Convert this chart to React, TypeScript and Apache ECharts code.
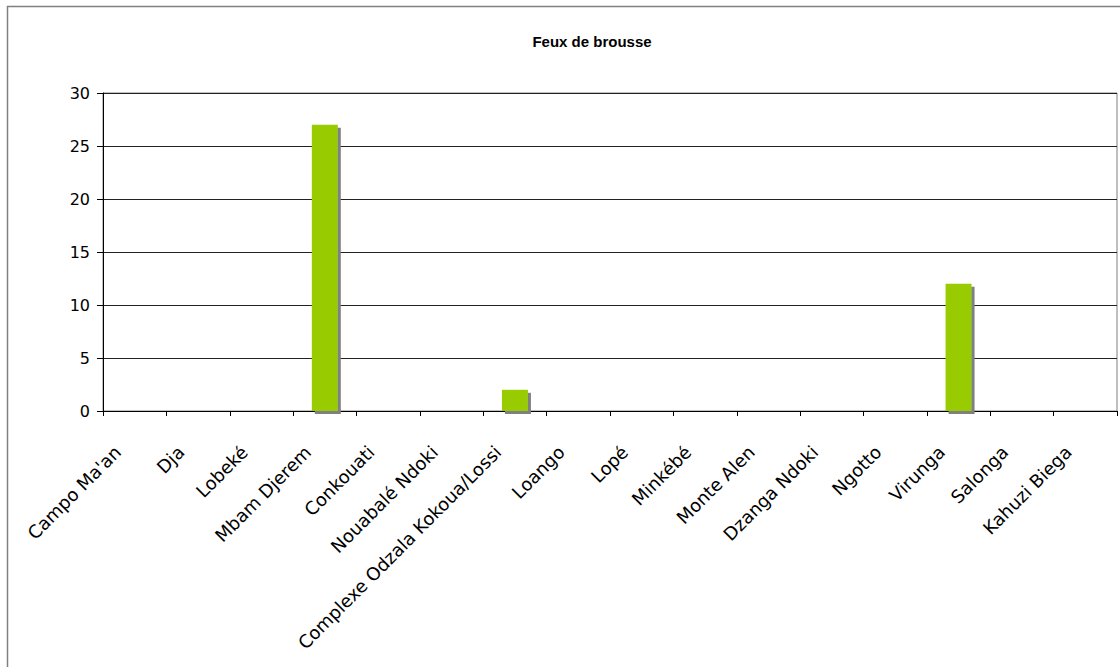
import React, { useEffect, useRef } from "react";
import * as echarts from "echarts";

const categories = [
  "Campo Ma'an",
  "Dja",
  "Lobeké",
  "Mbam Djerem",
  "Conkouati",
  "Nouabalé Ndoki",
  "Complexe Odzala Kokoua/Lossi",
  "Loango",
  "Lopé",
  "Minkébé",
  "Monte Alen",
  "Dzanga Ndoki",
  "Ngotto",
  "Virunga",
  "Salonga",
  "Kahuzi Biega",
];
const values = [0, 0, 0, 27, 0, 0, 2, 0, 0, 0, 0, 0, 0, 12, 0, 0];
const titleText = "Feux de brousse";

export default function App() {
  const ref = useRef<HTMLDivElement>(null);
  useEffect(() => {
    if (!ref.current) return;
    const chart = echarts.init(ref.current, null, { renderer: "svg" });
    chart.setOption({
      animation: false,
      backgroundColor: "#ffffff",
      graphic: [
        {
          type: "rect",
          shape: { x: 7.5, y: 6.5, width: 1200, height: 800 },
          style: { fill: "none", stroke: "#808080", lineWidth: 1.5 },
          silent: true,
          z: -10,
        },
        {
          type: "text",
          x: 592,
          y: 41,
          style: {
            text: titleText,
            fill: "#000",
            font: "bold 15px 'Liberation Sans', Arial, sans-serif",
            textAlign: "center",
            textVerticalAlign: "middle",
          },
        },
      ],
      grid: {
        left: 103,
        right: 3,
        top: 93,
        bottom: 256,
        show: true,
        borderColor: "#808080",
        borderWidth: 1,
      },
      xAxis: {
        type: "category",
        data: categories,
        axisLine: { lineStyle: { color: "#000", width: 1 } },
        axisTick: { show: true, length: 5, lineStyle: { color: "#000" } },
        axisLabel: {
          interval: 0,
          rotate: 45,
          margin: 21,
          padding: [0, 24, 0, 0],
          color: "#000",
          fontSize: 18,
          fontFamily: "'DejaVu Sans', Verdana, sans-serif",
        },
      },
      yAxis: {
        type: "value",
        min: 0,
        max: 30,
        interval: 5,
        axisLine: { show: true, lineStyle: { color: "#000", width: 1 } },
        axisTick: { show: true, length: 6, lineStyle: { color: "#000" } },
        axisLabel: {
          color: "#000",
          fontSize: 16,
          margin: 13,
          fontFamily: "'DejaVu Sans', Verdana, sans-serif",
        },
        splitLine: { lineStyle: { color: "#222", width: 1 } },
      },
      series: [
        {
          type: "bar",
          data: values,
          barWidth: 26,
          itemStyle: {
            color: "#99CC00",
            shadowColor: "#808080",
            shadowOffsetX: 3,
            shadowOffsetY: 3,
            shadowBlur: 0,
          },
        },
      ],
    });
    return () => chart.dispose();
  }, []);
  return (
    <div
      ref={ref}
      style={{ position: "fixed", left: 0, top: 0, width: 1120, height: 667 }}
    />
  );
}
